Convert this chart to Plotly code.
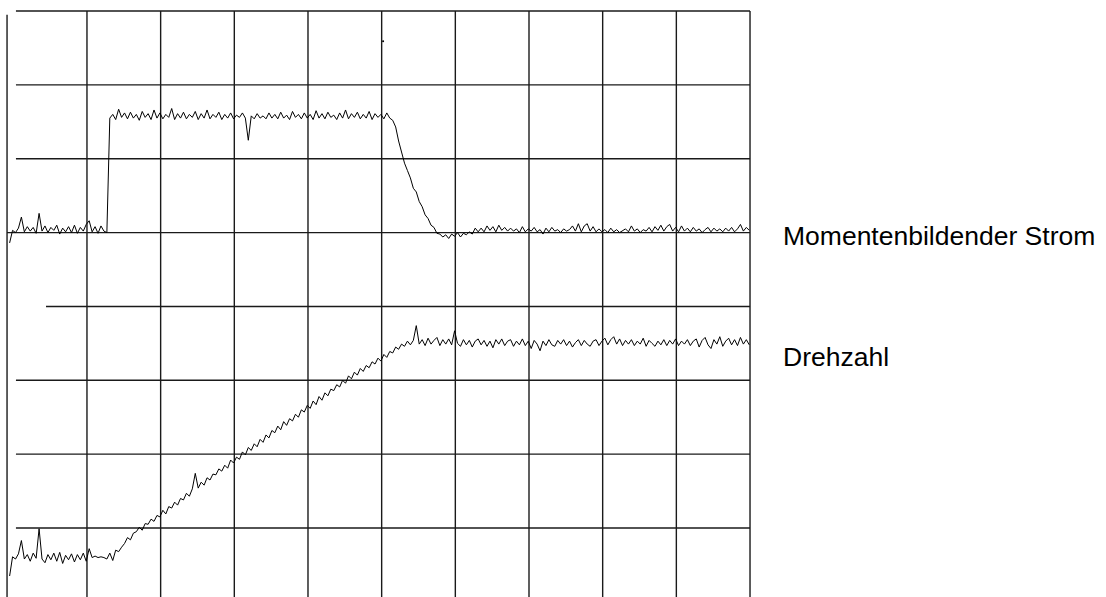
import plotly.graph_objects as go

# Time axis: sampled every 0.04 division starting at -0.05 division
T0 = -0.05
DT = 0.04

# Momentenbildender Strom (torque-forming current), in screen divisions
strom = [
    4.86, 5.03, 5.00, 5.06, 5.21, 5.01, 5.08, 5.02, 5.07, 4.99,
    5.26, 5.02, 5.09, 5.00, 5.07, 5.03, 5.10, 4.98, 5.06, 5.01,
    5.08, 5.00, 5.10, 4.99, 5.07, 5.02, 5.11, 5.16, 5.01, 5.08,
    4.99, 5.09, 5.02, 5.00, 6.55, 6.60, 6.53, 6.67, 6.56, 6.62,
    6.54, 6.63, 6.55, 6.60, 6.52, 6.64, 6.56, 6.61, 6.53, 6.66,
    6.55, 6.62, 6.54, 6.60, 6.56, 6.68, 6.53, 6.61, 6.55, 6.63,
    6.54, 6.60, 6.56, 6.64, 6.53, 6.61, 6.55, 6.66, 6.54, 6.60,
    6.56, 6.63, 6.53, 6.60, 6.55, 6.62, 6.54, 6.59, 6.56, 6.62,
    6.55, 6.25, 6.58, 6.54, 6.61, 6.55, 6.58, 6.54, 6.62, 6.55,
    6.60, 6.54, 6.63, 6.55, 6.59, 6.53, 6.64, 6.56, 6.60, 6.54,
    6.62, 6.55, 6.60, 6.53, 6.65, 6.55, 6.61, 6.54, 6.63, 6.56,
    6.59, 6.53, 6.62, 6.55, 6.66, 6.54, 6.61, 6.56, 6.63, 6.54,
    6.60, 6.55, 6.64, 6.53, 6.61, 6.56, 6.60, 6.54, 6.62, 6.55,
    6.52, 6.43, 6.24, 6.07, 5.94, 5.84, 5.74, 5.60, 5.55, 5.42,
    5.35, 5.24, 5.19, 5.10, 5.07, 4.99, 4.98, 4.94, 4.97, 4.92,
    4.98, 4.95, 5.00, 4.94, 4.99, 4.97, 5.01, 4.98, 5.06, 5.01,
    5.06, 5.01, 5.09, 5.03, 5.08, 5.01, 5.10, 5.03, 5.07, 5.02,
    5.06, 5.02, 5.05, 5.00, 5.08, 5.01, 5.05, 5.02, 5.07, 5.01,
    5.04, 4.98, 5.06, 5.01, 5.07, 5.02, 5.04, 5.00, 5.05, 5.02,
    5.04, 5.09, 5.02, 5.12, 5.01, 5.09, 5.12, 5.02, 5.08, 5.01,
    5.05, 5.01, 5.04, 5.00, 5.06, 5.01, 5.04, 5.00, 5.03, 5.05,
    5.01, 5.09, 5.02, 5.05, 5.00, 5.04, 5.02, 5.07, 5.01, 5.08,
    5.03, 5.10, 5.02, 5.08, 5.11, 5.02, 5.07, 5.01, 5.09, 5.02,
    5.06, 5.01, 5.07, 5.02, 5.05, 5.00, 5.04, 5.07, 5.01, 5.06,
    5.02, 5.05, 5.01, 5.06, 5.02, 5.07, 5.01, 5.05, 5.11, 5.02,
    5.07, 5.03,
]

# Drehzahl (speed), in screen divisions
drehzahl = [
    0.35, 0.61, 0.58, 0.65, 0.83, 0.58, 0.64, 0.55, 0.66, 0.59,
    0.99, 0.58, 0.53, 0.64, 0.57, 0.66, 0.55, 0.67, 0.52, 0.63,
    0.57, 0.65, 0.54, 0.64, 0.57, 0.66, 0.55, 0.72, 0.60, 0.62,
    0.60, 0.61, 0.60, 0.58, 0.66, 0.56, 0.70, 0.68, 0.74, 0.79,
    0.87, 0.84, 0.93, 0.95, 1.01, 0.97, 1.06, 1.05, 1.12, 1.09,
    1.17, 1.15, 1.24, 1.19, 1.29, 1.27, 1.35, 1.31, 1.40, 1.38,
    1.47, 1.43, 1.53, 1.74, 1.54, 1.62, 1.58, 1.68, 1.65, 1.73,
    1.72, 1.80, 1.77, 1.85, 1.81, 1.92, 1.88, 1.96, 1.93, 2.03,
    1.99, 2.09, 2.05, 2.14, 2.10, 2.20, 2.16, 2.26, 2.22, 2.32,
    2.29, 2.38, 2.33, 2.44, 2.39, 2.48, 2.45, 2.54, 2.50, 2.60,
    2.57, 2.66, 2.62, 2.72, 2.67, 2.78, 2.73, 2.83, 2.79, 2.88,
    2.86, 2.94, 2.91, 3.00, 2.96, 3.06, 3.02, 3.11, 3.07, 3.16,
    3.12, 3.20, 3.17, 3.25, 3.22, 3.30, 3.26, 3.35, 3.31, 3.39,
    3.37, 3.45, 3.42, 3.49, 3.46, 3.53, 3.48, 3.54, 3.74, 3.49,
    3.55, 3.47, 3.57, 3.49, 3.54, 3.58, 3.47, 3.55, 3.49, 3.56,
    3.48, 3.67, 3.50, 3.46, 3.55, 3.48, 3.54, 3.45, 3.53, 3.56,
    3.48, 3.54, 3.46, 3.53, 3.44, 3.55, 3.49, 3.56, 3.47, 3.53,
    3.55, 3.46, 3.53, 3.48, 3.56, 3.47, 3.53, 3.43, 3.54, 3.49,
    3.40, 3.53, 3.47, 3.55, 3.48, 3.46, 3.54, 3.49, 3.55, 3.47,
    3.53, 3.45, 3.51, 3.55, 3.47, 3.54, 3.49, 3.46, 3.53, 3.55,
    3.47, 3.53, 3.57, 3.48, 3.55, 3.59, 3.49, 3.56, 3.47, 3.54,
    3.49, 3.55, 3.47, 3.53, 3.49, 3.57, 3.46, 3.54, 3.50, 3.46,
    3.53, 3.48, 3.55, 3.47, 3.54, 3.49, 3.56, 3.47, 3.53, 3.49,
    3.55, 3.47, 3.53, 3.56, 3.45, 3.54, 3.58, 3.48, 3.43, 3.55,
    3.49, 3.59, 3.46, 3.53, 3.57, 3.48, 3.55, 3.47, 3.58, 3.49,
    3.55, 3.48,
]

labels = ["Momentenbildender Strom", "Drehzahl"]
label_levels = [4.95, 3.31]

# stray dot visible on the screen
dot_t = [5.02]
dot_y = [7.59]

# grid: 10 x 8 divisions
x_divs = list(range(0, 11))
y_divs = list(range(0, 9))

fig = go.Figure()

GRID = "#1a1a1a"
shapes = []
for xv in x_divs[1:]:
    shapes.append(dict(type="line", xref="x", yref="y", x0=xv, x1=xv, y0=8, y1=-0.5,
                       line=dict(color=GRID, width=1.4), layer="below"))
shapes.append(dict(type="line", xref="x", yref="y", x0=-0.085, x1=-0.085, y0=7.95, y1=-0.5,
                   line=dict(color=GRID, width=1.4), layer="below"))
h_start = {8: 0.036, 7: 0.036, 6: 0.036, 5: -0.085, 4: 0.444, 3: 0.036, 2: 0.036, 1: 0.036}
for yv in y_divs[1:]:
    shapes.append(dict(type="line", xref="x", yref="y", x0=h_start[yv], x1=10, y0=yv, y1=yv,
                       line=dict(color=GRID, width=1.4), layer="below"))

fig.add_trace(go.Scatter(x0=T0, dx=DT, y=strom, mode="lines",
                         line=dict(color="black", width=1), name=labels[0],
                         hoverinfo="skip"))
fig.add_trace(go.Scatter(x0=T0, dx=DT, y=drehzahl, mode="lines",
                         line=dict(color="black", width=1), name=labels[1],
                         hoverinfo="skip"))
fig.add_trace(go.Scatter(x=dot_t, y=dot_y, mode="markers",
                         marker=dict(color="black", size=2), hoverinfo="skip"))

annotations = []
for txt, lv in zip(labels, label_levels):
    annotations.append(dict(x=10.42, y=lv, xref="x", yref="y", text=txt, showarrow=False,
                            xanchor="left", yanchor="middle",
                            font=dict(family="Liberation Sans, Arial, sans-serif", size=26.5,
                                      color="black")))

fig.update_layout(
    width=1106, height=597,
    margin=dict(l=0, r=0, t=0, b=0),
    paper_bgcolor="white", plot_bgcolor="white",
    showlegend=False,
    shapes=shapes,
    annotations=annotations,
    xaxis=dict(range=[-0.1805, 14.832], visible=False, showgrid=False, zeroline=False, fixedrange=True),
    yaxis=dict(range=[0.0658, 8.149], visible=False, showgrid=False, zeroline=False, fixedrange=True),
)

fig.write_html("out.html", post_script="document.body.style.margin='0';document.body.style.overflow='hidden';",
               config={"displayModeBar": False})
